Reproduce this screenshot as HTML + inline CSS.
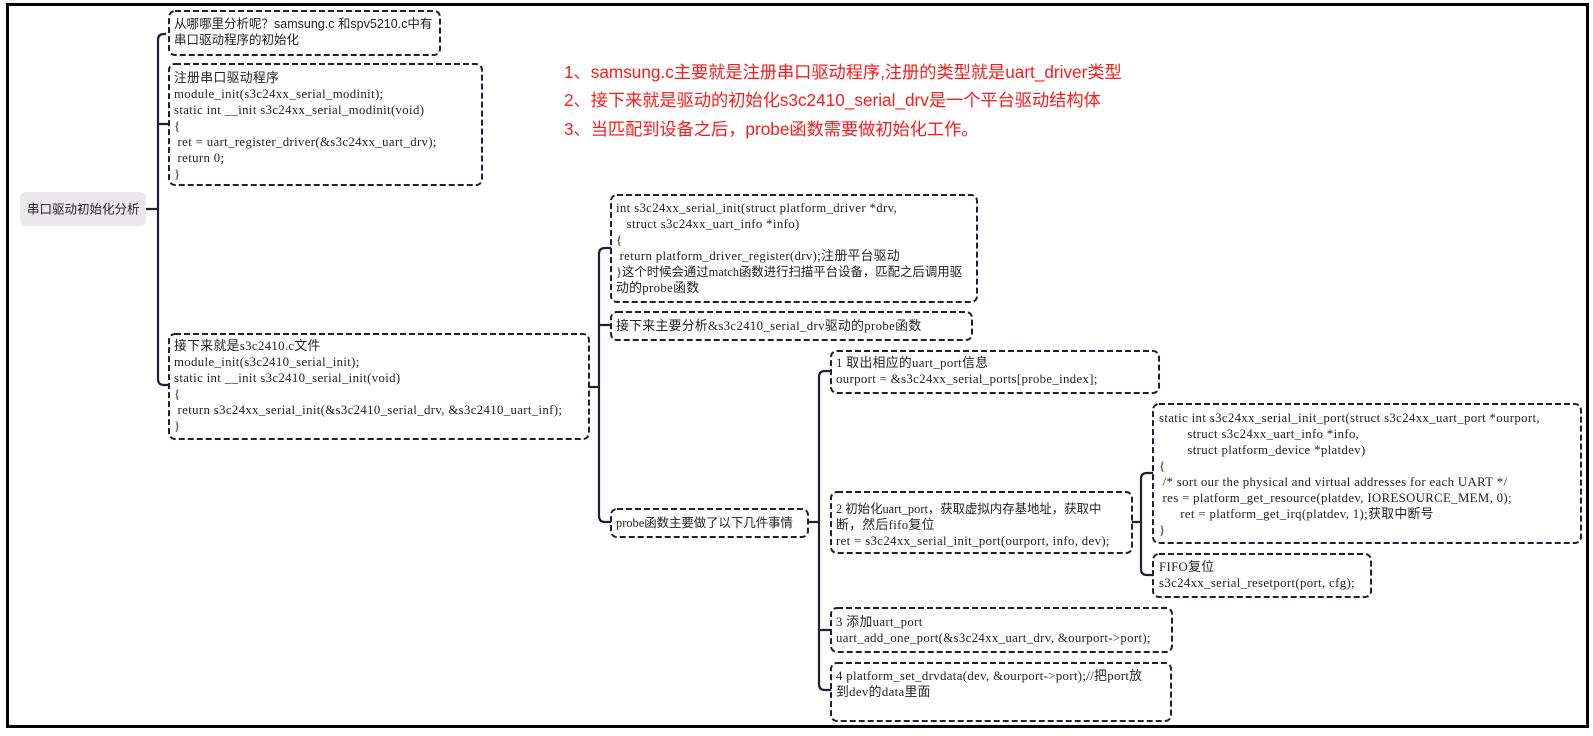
<!DOCTYPE html>
<html><head><meta charset="utf-8"><style>
html,body{margin:0;padding:0;background:#fff;width:1593px;height:736px;overflow:hidden}
svg{display:block}
text{white-space:pre}
.t{font-family:"Liberation Serif","Noto Sans CJK SC",serif;font-size:12.8px;letter-spacing:0.35px;fill:#222}
.z{font-family:"Liberation Serif","Noto Sans CJK SC",serif;font-size:12.4px;letter-spacing:0px;fill:#222}
.s{font-family:"Liberation Sans","Noto Sans CJK SC",sans-serif;font-size:12.5px;fill:#222}
.r{font-family:"Liberation Sans","Noto Sans CJK SC",sans-serif;font-size:17.2px;fill:#ff1a1a}
.b{fill:#fff;stroke:#1f1f3a;stroke-width:2;stroke-dasharray:6 3}
.c{fill:none;stroke:#1f1f3a;stroke-width:2.2}
</style></head><body>
<svg width="1593" height="736" viewBox="0 0 1593 736" xmlns="http://www.w3.org/2000/svg" xml:space="preserve">
<rect x="7.5" y="4.5" width="1580" height="722" fill="none" stroke="#000" stroke-width="3"/>

<path class="c" d="M146 209 H158 M166 34 H164 Q158 34 158 40 V379 Q158 385 164 385 H169 M158 124 H169"/>
<path class="c" d="M589 387 H599 M611 248 H605 Q599 248 599 254 V516 Q599 522 605 522 H611 M599 325 H611"/>
<path class="c" d="M808 522 H819 M831 371 H825 Q819 371 819 377 V684 Q819 690 825 690 H831 M819 630 H831"/>
<path class="c" d="M1132 522 H1141 M1153 473 H1147 Q1141 473 1141 479 V569 Q1141 575 1147 575 H1153"/>

<rect x="20" y="192" width="126" height="34" rx="6" fill="#ebe8ec"/>
<text class="s" x="27" y="213.5">串口驱动初始化分析</text>

<rect class="b" x="169" y="11" width="271" height="44" rx="6"/>
<text class="s" x="174" y="28">从哪哪里分析呢？samsung.c 和spv5210.c中有</text>
<text class="s" x="174" y="44">串口驱动程序的初始化</text>

<rect class="b" x="169" y="64" width="313" height="121" rx="6"/>
<g class="t">
<text x="174" y="82">注册串口驱动程序</text>
<text x="174" y="98">module_init(s3c24xx_serial_modinit);</text>
<text x="174" y="114">static int __init s3c24xx_serial_modinit(void)</text>
<text x="174" y="130">{</text>
<text x="174" y="146"> ret = uart_register_driver(&amp;s3c24xx_uart_drv);</text>
<text x="174" y="162"> return 0;</text>
<text x="174" y="178">}</text>
</g>

<rect class="b" x="169" y="334" width="420" height="105" rx="6"/>
<g class="t">
<text x="174" y="350">接下来就是s3c2410.c文件</text>
<text x="174" y="366">module_init(s3c2410_serial_init);</text>
<text x="174" y="382">static int __init s3c2410_serial_init(void)</text>
<text x="174" y="398">{</text>
<text x="174" y="414"> return s3c24xx_serial_init(&amp;s3c2410_serial_drv, &amp;s3c2410_uart_inf);</text>
<text x="174" y="430">}</text>
</g>

<rect class="b" x="611" y="195" width="366" height="107" rx="6"/>
<g class="t">
<text x="616" y="212">int s3c24xx_serial_init(struct platform_driver *drv,</text>
<text x="616" y="228">   struct s3c24xx_uart_info *info)</text>
<text x="616" y="244">{</text>
<text x="616" y="260"> return platform_driver_register(drv);注册平台驱动</text>
<text class="z" x="616" y="276">}这个时候会通过match函数进行扫描平台设备，匹配之后调用驱</text>
<text x="616" y="292">动的probe函数</text>
</g>

<rect class="b" x="611" y="312" width="361" height="28" rx="6"/>
<text class="t" x="616" y="330">接下来主要分析&amp;s3c2410_serial_drv驱动的probe函数</text>

<rect class="b" x="611" y="509" width="197" height="28" rx="6"/>
<text class="z" x="616" y="527">probe函数主要做了以下几件事情</text>

<rect class="b" x="831" y="351" width="328" height="42" rx="6"/>
<g class="t">
<text x="836" y="367">1 取出相应的uart_port信息</text>
<text x="836" y="383">ourport = &amp;s3c24xx_serial_ports[probe_index];</text>
</g>

<rect class="b" x="831" y="492" width="301" height="61" rx="6"/>
<g class="t">
<text class="z" x="836" y="513">2 初始化uart_port，获取虚拟内存基地址，获取中</text>
<text x="836" y="529">断，然后fifo复位</text>
<text x="836" y="545">ret = s3c24xx_serial_init_port(ourport, info, dev);</text>
</g>

<rect class="b" x="1153" y="404" width="428" height="139" rx="6"/>
<g class="t">
<text x="1159" y="422">static int s3c24xx_serial_init_port(struct s3c24xx_uart_port *ourport,</text>
<text x="1159" y="438">        struct s3c24xx_uart_info *info,</text>
<text x="1159" y="454">        struct platform_device *platdev)</text>
<text x="1159" y="470">{</text>
<text x="1159" y="486"> /* sort our the physical and virtual addresses for each UART */</text>
<text x="1159" y="502"> res = platform_get_resource(platdev, IORESOURCE_MEM, 0);</text>
<text x="1159" y="518">      ret = platform_get_irq(platdev, 1);获取中断号</text>
<text x="1159" y="534">}</text>
</g>

<rect class="b" x="1153" y="554" width="218" height="43" rx="6"/>
<g class="t">
<text x="1159" y="571">FIFO复位</text>
<text x="1159" y="587">s3c24xx_serial_resetport(port, cfg);</text>
</g>

<rect class="b" x="831" y="608" width="341" height="44" rx="6"/>
<g class="t">
<text x="836" y="626">3 添加uart_port</text>
<text x="836" y="642">uart_add_one_port(&amp;s3c24xx_uart_drv, &amp;ourport-&gt;port);</text>
</g>

<rect class="b" x="831" y="663" width="340" height="58" rx="6"/>
<g class="t">
<text x="836" y="680">4 platform_set_drvdata(dev, &amp;ourport-&gt;port);//把port放</text>
<text x="836" y="696">到dev的data里面</text>
</g>

<text class="r" x="564" y="78">1、samsung.c主要就是注册串口驱动程序,注册的类型就是uart_driver类型</text>
<text class="r" x="564" y="106">2、接下来就是驱动的初始化s3c2410_serial_drv是一个平台驱动结构体</text>
<text class="r" x="564" y="135">3、当匹配到设备之后，probe函数需要做初始化工作。</text>
</svg>
</body></html>
